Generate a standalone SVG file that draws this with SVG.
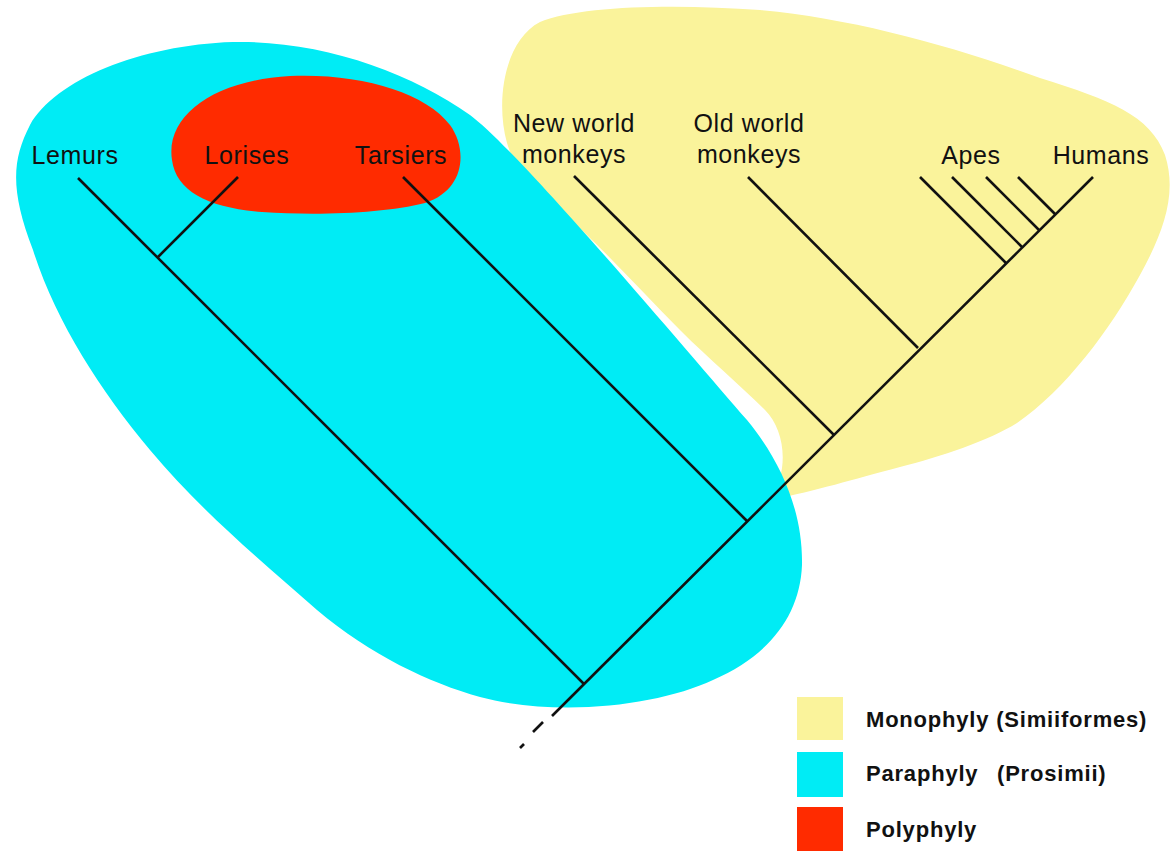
<svg xmlns="http://www.w3.org/2000/svg" width="1174" height="851" viewBox="0 0 1174 851">
  <style>
    .label { font-family: "Liberation Sans", Arial, sans-serif; font-size: 25px; letter-spacing: 0.6px; fill: #111; text-anchor: middle; }
    .legend { font-family: "Liberation Sans", Arial, sans-serif; font-size: 22px; font-weight: bold; letter-spacing: 0.8px; fill: #111; }
    .branch { stroke: #111; stroke-width: 2.6; fill: none; stroke-linecap: butt; }
    .mono { fill: #FAF39B; }
    .para { fill: #00ECF5; }
    .poly { fill: #FF2B00; }
  </style>
  <rect width="1174" height="851" fill="#ffffff"/>

  <!-- clade regions -->
  <g id="region-simiiformes">
    <path class="mono" d="M 770,500 C 820,490 850,480 900,467 C 940,457 990,440 1017,423 C 1065,390 1110,330 1140,275 C 1162,235 1178,195 1165,155 C 1150,115 1110,100 1040,78 C 950,45 850,18 760,10 C 680,4 580,5 540,22 C 505,40 495,100 507,143 C 515,170 535,190 560,210 C 600,245 640,290 680,330 C 710,360 740,385 765,410 C 785,430 790,470 770,500 Z"/>
  </g>
  <g id="region-prosimii">
    <path class="para" d="M 233,42 C 320,40 410,72 470,115 C 520,152 690,355 747,420 C 780,460 803,510 802,565 C 800,615 770,655 713,680 C 660,705 560,718 480,697 C 430,683 370,655 317,610 C 260,560 200,510 150,450 C 100,390 55,320 33,250 C 10,190 12,160 30,125 C 55,80 140,45 233,42 Z"/>
  </g>
  <g id="region-polyphyly">
    <path class="poly" d="M 172,160 C 165,115 215,80 290,76 C 360,73 425,92 450,125 C 468,150 465,190 425,203 C 385,213 320,216 262,212 C 210,208 176,192 172,160 Z"/>
  </g>

  <!-- tree branches -->
  <g id="connectors">
    <line class="branch" x1="78" y1="178" x2="584" y2="684"/>
    <line class="branch" x1="238" y1="177" x2="158" y2="257"/>
    <line class="branch" x1="403" y1="177" x2="747" y2="521"/>
    <line class="branch" x1="574" y1="176" x2="834" y2="435"/>
    <line class="branch" x1="748" y1="177" x2="918" y2="348"/>
    <line class="branch" x1="920" y1="177" x2="1006" y2="263"/>
    <line class="branch" x1="952" y1="177" x2="1022" y2="247"/>
    <line class="branch" x1="986" y1="177" x2="1039" y2="230"/>
    <line class="branch" x1="1018" y1="177" x2="1055" y2="214"/>
    <line class="branch" x1="1093" y1="177" x2="552" y2="716"/>
    <line class="branch" x1="543" y1="722" x2="533" y2="732"/>
    <line class="branch" x1="524" y1="744" x2="520" y2="748"/>
  </g>

  <!-- taxa -->
  <g id="node-lemurs"><text class="label" x="75" y="164">Lemurs</text></g>
  <g id="node-lorises"><text class="label" x="247" y="164">Lorises</text></g>
  <g id="node-tarsiers"><text class="label" x="401" y="164">Tarsiers</text></g>
  <g id="node-new-world-monkeys">
    <text class="label" x="574" y="132">New world</text>
    <text class="label" x="574" y="163">monkeys</text>
  </g>
  <g id="node-old-world-monkeys">
    <text class="label" x="749" y="132">Old world</text>
    <text class="label" x="749" y="163">monkeys</text>
  </g>
  <g id="node-apes"><text class="label" x="971" y="164">Apes</text></g>
  <g id="node-humans"><text class="label" x="1101" y="164">Humans</text></g>

  <!-- key -->
  <g id="legend">
    <rect class="mono" x="797" y="697" width="46" height="43"/>
    <rect class="para" x="797" y="752" width="46" height="45"/>
    <rect class="poly" x="797" y="807" width="46" height="44"/>
    <text class="legend" x="866" y="727">Monophyly (Simiiformes)</text>
    <text class="legend" x="866" y="781">Paraphyly<tspan x="997">(Prosimii)</tspan></text>
    <text class="legend" x="866" y="837">Polyphyly</text>
  </g>
</svg>
